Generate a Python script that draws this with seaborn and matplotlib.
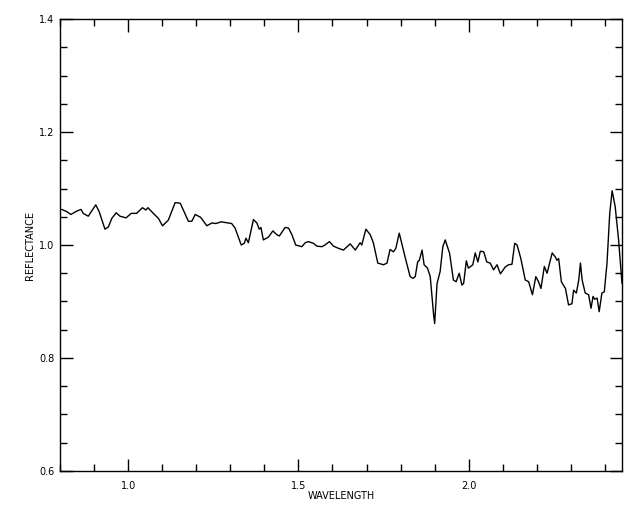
import matplotlib
matplotlib.use("Agg")
import matplotlib.pyplot as plt
import seaborn as sns
import pandas as pd
from matplotlib.ticker import MultipleLocator

wavelength = [
    0.805, 0.820, 0.832, 0.849, 0.862, 0.868, 0.883, 0.905, 0.915, 0.932,
    0.942, 0.952, 0.965, 0.976, 0.994, 1.009, 1.025, 1.042, 1.052, 1.058,
    1.074, 1.089, 1.101, 1.118, 1.138, 1.153, 1.162, 1.177, 1.187, 1.197,
    1.213, 1.231, 1.246, 1.258, 1.273, 1.294, 1.304, 1.314, 1.332, 1.341,
    1.346, 1.353, 1.368, 1.378, 1.385, 1.390, 1.397, 1.412, 1.425, 1.437,
    1.444, 1.461, 1.471, 1.481, 1.492, 1.510, 1.520, 1.529, 1.544, 1.554,
    1.569, 1.578, 1.591, 1.603, 1.618, 1.632, 1.652, 1.667, 1.681, 1.686,
    1.698, 1.711, 1.720, 1.733, 1.750, 1.760, 1.769, 1.779, 1.786, 1.796,
    1.813, 1.828, 1.836, 1.843, 1.850, 1.855, 1.863, 1.869, 1.879, 1.887,
    1.897, 1.900, 1.907, 1.916, 1.924, 1.931, 1.944, 1.955, 1.963, 1.972,
    1.980, 1.985, 1.993, 1.999, 2.012, 2.019, 2.027, 2.034, 2.044, 2.053,
    2.063, 2.073, 2.083, 2.093, 2.107, 2.117, 2.127, 2.135, 2.142, 2.153,
    2.166, 2.176, 2.187, 2.197, 2.205, 2.212, 2.222, 2.230, 2.245, 2.254,
    2.259, 2.264, 2.272, 2.284, 2.293, 2.303, 2.308, 2.316, 2.323, 2.328,
    2.333, 2.342, 2.352, 2.359, 2.365, 2.370, 2.377, 2.383, 2.391, 2.398,
    2.406, 2.414, 2.421, 2.430, 2.440, 2.447, 2.450,
]
reflectance = [
    1.063, 1.059, 1.054, 1.060, 1.063, 1.056, 1.051, 1.071, 1.059, 1.028,
    1.032, 1.047, 1.057, 1.051, 1.048, 1.056, 1.056, 1.066, 1.062, 1.066,
    1.056, 1.047, 1.034, 1.044, 1.075, 1.074, 1.062, 1.042, 1.042, 1.054,
    1.049, 1.034, 1.039, 1.038, 1.041, 1.039, 1.038, 1.030, 1.000, 1.003,
    1.012, 1.004, 1.045, 1.039, 1.028, 1.031, 1.009, 1.014, 1.025, 1.018,
    1.016, 1.031, 1.030, 1.018, 1.000, 0.997, 1.004, 1.006, 1.003, 0.998,
    0.997, 1.000, 1.006, 0.998, 0.994, 0.991, 1.002, 0.991, 1.004, 1.000,
    1.028, 1.018, 1.004, 0.968, 0.965, 0.968, 0.992, 0.988, 0.994, 1.021,
    0.979, 0.944, 0.941, 0.944, 0.970, 0.973, 0.991, 0.965, 0.959, 0.944,
    0.876, 0.861, 0.932, 0.953, 0.997, 1.009, 0.985, 0.938, 0.935, 0.950,
    0.929, 0.932, 0.972, 0.959, 0.965, 0.986, 0.970, 0.989, 0.988, 0.970,
    0.968, 0.956, 0.965, 0.949, 0.961, 0.965, 0.966, 1.003, 1.000, 0.976,
    0.938, 0.935, 0.912, 0.944, 0.935, 0.923, 0.962, 0.950, 0.986, 0.979,
    0.973, 0.976, 0.935, 0.923, 0.894, 0.896, 0.920, 0.915, 0.938, 0.968,
    0.938, 0.915, 0.912, 0.888, 0.909, 0.904, 0.906, 0.882, 0.915, 0.917,
    0.968, 1.056, 1.096, 1.068, 1.009, 0.956, 0.932,
]

x_major = [1.0, 1.5, 2.0]
x_labels = ["1.0", "1.5", "2.0"]
y_major = [0.6, 0.8, 1.0, 1.2, 1.4]
y_labels = ["0.6", "0.8", "1.0", "1.2", "1.4"]

df = pd.DataFrame({"WAVELENGTH": wavelength, "REFLECTANCE": reflectance})

sns.set_theme(style="ticks")
plt.rcParams["font.family"] = ["DejaVu Sans"]

fig = plt.figure(figsize=(6.4, 5.12), dpi=100)
ax = fig.add_axes([60 / 640, 41 / 512, 562 / 640, 452 / 512])
sns.lineplot(data=df, x="WAVELENGTH", y="REFLECTANCE", sort=False,
             estimator=None, color="black", linewidth=1.0, ax=ax)

ax.set_xlim(0.8, 2.45)
ax.set_ylim(0.6, 1.4)
ax.set_xticks(x_major)
ax.set_xticklabels(x_labels)
ax.set_yticks(y_major)
ax.set_yticklabels(y_labels)
ax.xaxis.set_minor_locator(MultipleLocator(0.1))
ax.yaxis.set_minor_locator(MultipleLocator(0.05))

for s in ax.spines.values():
    s.set_visible(True)
    s.set_color("black")
    s.set_linewidth(1.0)

ax.tick_params(which="both", direction="in", top=True, right=True,
               colors="black", width=1.0, labelsize=7)
ax.tick_params(which="major", length=9)
ax.tick_params(which="minor", length=5)
ax.tick_params(axis="x", which="major", pad=7)
ax.tick_params(axis="y", which="major", pad=4)
ax.set_xlabel("WAVELENGTH", fontsize=7, labelpad=0, color="black")
ax.set_ylabel("REFLECTANCE", fontsize=7, labelpad=3, color="black")

fig.savefig("out.png", dpi=100, facecolor="white")
